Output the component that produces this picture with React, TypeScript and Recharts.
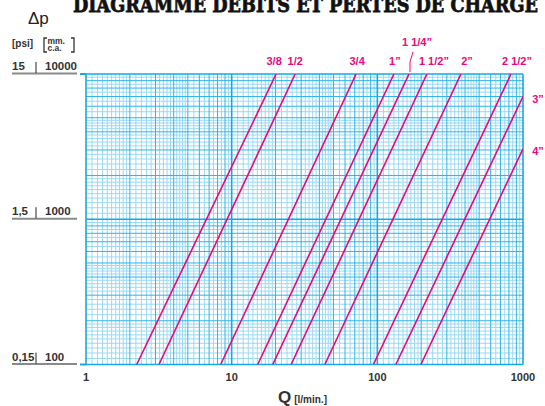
import React from 'react';
import { LineChart, Line, XAxis, YAxis, ReferenceLine } from 'recharts';

// ---- axes ----
const xTicks = [1, 10, 100, 1000];
const yTicks = [100, 1000, 10000];
const psiLabels = ['0,15', '1,5', '15'];
const mmLabels = ['100', '1000', '10000'];

// ---- log-paper grid values (mantissas per decade) ----
const xDecades = [1, 10, 100];
const yDecades = [100, 1000];
const midMantissas = [2, 3, 4, 5, 6, 7, 8, 9];
const minorMantissas = [1.1, 1.2, 1.3, 1.4, 1.5, 1.6, 1.7, 1.8, 1.9, 2.2, 2.4, 2.6, 2.8, 3.2, 3.4, 3.6, 3.8, 4.2, 4.4, 4.6, 4.8, 5.5, 6.5, 7.5, 8.5, 9.5];

// ---- pipe curves: flow Q [l/min] and pressure drop [mm c.a.] at both ends ----
const pipeNames = ['3/8', '1/2', '3/4', '1”', '1 1/4”', '1 1/2”', '2”', '2 1/2”', '3”', '4”'];
const flowStart = [2.23, 3.17, 8.41, 15.1, 19.15, 25.6, 43.6, 94, 134, 199];
const flowEnd = [20.2, 27.3, 71.5, 130, 165, 219, 375, 827, 1000, 1000];
const dropStart = [100, 100, 100, 100, 100, 100, 100, 100, 100, 100];
const dropEnd = [10000, 10000, 10000, 10000, 10000, 10000, 10000, 10000, 7000, 3050];

// label offsets (style only)
const labelDx = [-2, 0, 1, 1, 8, 7, 6, 6, 15, 15];
const labelDy = [-9, -9, -9, -9, -28, -9, -9, -9, 7, 6];

const MAGENTA = '#e5097f';
const CYAN_MAJOR = '#14a9e2';
const CYAN_MID = '#2db6ea';
const CYAN_MINOR = '#9ad9f3';
const FONT = "'Liberation Sans', Arial, sans-serif";

const round = (v: number) => Math.round(v * 1000) / 1000;
const mk = (decs: number[], ms: number[]) => decs.flatMap((d) => ms.map((m) => round(d * m)));

const xMinor = mk(xDecades, minorMantissas);
const xMid = mk(xDecades, midMantissas);
const yMinor = mk(yDecades, minorMantissas);
const yMid = mk(yDecades, midMantissas);

const pipes = pipeNames.map((name, i) => ({
  name,
  data: [
    { q: flowStart[i], dp: dropStart[i] },
    { q: flowEnd[i], dp: dropEnd[i] },
  ],
}));

const YTick = (props: any) => {
  const { x, y, payload } = props;
  const i = yTicks.indexOf(payload.value);
  const left = x - 74;
  return (
    <g>
      <line x1={left} x2={x - 9} y1={y - 0.5} y2={y - 0.5} stroke="#8a8a8a" strokeWidth={2} />
      <line x1={x - 50} x2={x - 50} y1={y - 12} y2={y - 1} stroke="#222" strokeWidth={1} />
      <text x={left} y={y - 4} fontFamily={FONT} fontWeight="bold" fontSize={11.5} fill="#333">
        {psiLabels[i]}
      </text>
      <text x={x - 41} y={y - 4} fontFamily={FONT} fontWeight="bold" fontSize={11.5} fill="#333">
        {mmLabels[i]}
      </text>
      {i !== 1 && <line x1={x - 6} x2={x} y1={y} y2={y} stroke={CYAN_MAJOR} strokeWidth={2} />}
    </g>
  );
};

const XTick = (props: any) => {
  const { x, y, payload } = props;
  return (
    <text x={x} y={y + 16} textAnchor="middle" fontFamily={FONT} fontWeight="bold" fontSize={11} fill="#333">
      {payload.value}
    </text>
  );
};

const makeLabel = (i: number) => (props: any) => {
  const { x, y, index } = props;
  if (index !== 1) return null;
  const tx = x + labelDx[i];
  const ty = y + labelDy[i];
  return (
    <g key={`lbl-${i}`}>
      {i === 4 && (
        <polyline
          points={`${x + 1},${y - 2} ${x + 1},${y - 12} ${x + 4},${y - 22}`}
          fill="none"
          stroke={MAGENTA}
          strokeWidth={1}
        />
      )}
      <text x={tx} y={ty} textAnchor="middle" fontFamily={FONT} fontWeight="bold" fontSize={11} fill={MAGENTA}>
        {pipeNames[i]}
      </text>
    </g>
  );
};

export default function App() {
  return (
    <div style={{ position: 'absolute', left: 0, top: 0, width: 545, height: 406, background: '#fff' }}>
      <LineChart width={545} height={406} margin={{ top: 74, right: 22, bottom: 0, left: 0 }}>
        <XAxis
          type="number"
          dataKey="q"
          scale="log"
          domain={[1, 1000]}
          ticks={xTicks}
          allowDataOverflow
          axisLine={false}
          tickLine={false}
          tickSize={0}
          tickMargin={0}
          height={41.5}
          tick={<XTick />}
        />
        <YAxis
          type="number"
          dataKey="dp"
          scale="log"
          domain={[100, 10000]}
          ticks={yTicks}
          allowDataOverflow
          axisLine={false}
          tickLine={false}
          tickSize={0}
          tickMargin={0}
          width={86}
          tick={<YTick />}
        />
        {xMinor.map((v) => (
          <ReferenceLine key={`xm${v}`} x={v} stroke={CYAN_MINOR} strokeWidth={1} ifOverflow="hidden" />
        ))}
        {yMinor.map((v) => (
          <ReferenceLine key={`ym${v}`} y={v} stroke={CYAN_MINOR} strokeWidth={1} ifOverflow="hidden" />
        ))}
        {xMid.map((v) => (
          <ReferenceLine key={`xd${v}`} x={v} stroke={CYAN_MID} strokeWidth={1} ifOverflow="hidden" />
        ))}
        {yMid.map((v) => (
          <ReferenceLine key={`yd${v}`} y={v} stroke={CYAN_MID} strokeWidth={1} ifOverflow="hidden" />
        ))}
        {xTicks.map((v) => (
          <ReferenceLine key={`xM${v}`} x={v} stroke={CYAN_MAJOR} strokeWidth={1.6} ifOverflow="extendDomain" />
        ))}
        {yTicks.map((v) => (
          <ReferenceLine key={`yM${v}`} y={v} stroke={CYAN_MAJOR} strokeWidth={1.6} ifOverflow="extendDomain" />
        ))}
        {pipes.map((p, i) => (
          <Line
            key={p.name}
            data={p.data}
            dataKey="dp"
            stroke={MAGENTA}
            strokeWidth={1.6}
            dot={false}
            isAnimationActive={false}
            label={makeLabel(i)}
          />
        ))}
        <text
          x={73}
          y={12}
          textLength={465}
          lengthAdjust="spacingAndGlyphs"
          fontFamily="'DejaVu Serif', serif"
          fontWeight={900}
          fontSize={21}
          fill="#111"
          stroke="#111"
          strokeWidth={0.8}
        >
          DIAGRAMME DEBITS ET PERTES DE CHARGE
        </text>
        <text x={28} y={24} fontFamily={FONT} fontSize={17} fill="#222">Δp</text>
        <text x={12} y={47} fontFamily={FONT} fontWeight="bold" fontSize={10} fill="#333">[psi]</text>
        <polyline points="47,38 44,38 44,52 47,52" fill="none" stroke="#333" strokeWidth={1.3} />
        <polyline points="71,38 74,38 74,52 71,52" fill="none" stroke="#333" strokeWidth={1.3} />
        <text x={47.5} y={44} fontFamily={FONT} fontWeight="bold" fontSize={8.5} fill="#333">mm.</text>
        <text x={47.5} y={51} fontFamily={FONT} fontWeight="bold" fontSize={8.5} fill="#333">c.a.</text>
        <text x={278} y={403} fontFamily={FONT} fontWeight="bold" fontSize={17} fill="#333">
          Q
          <tspan dx={3} fontSize={10}>[l/min.]</tspan>
        </text>
      </LineChart>
    </div>
  );
}
